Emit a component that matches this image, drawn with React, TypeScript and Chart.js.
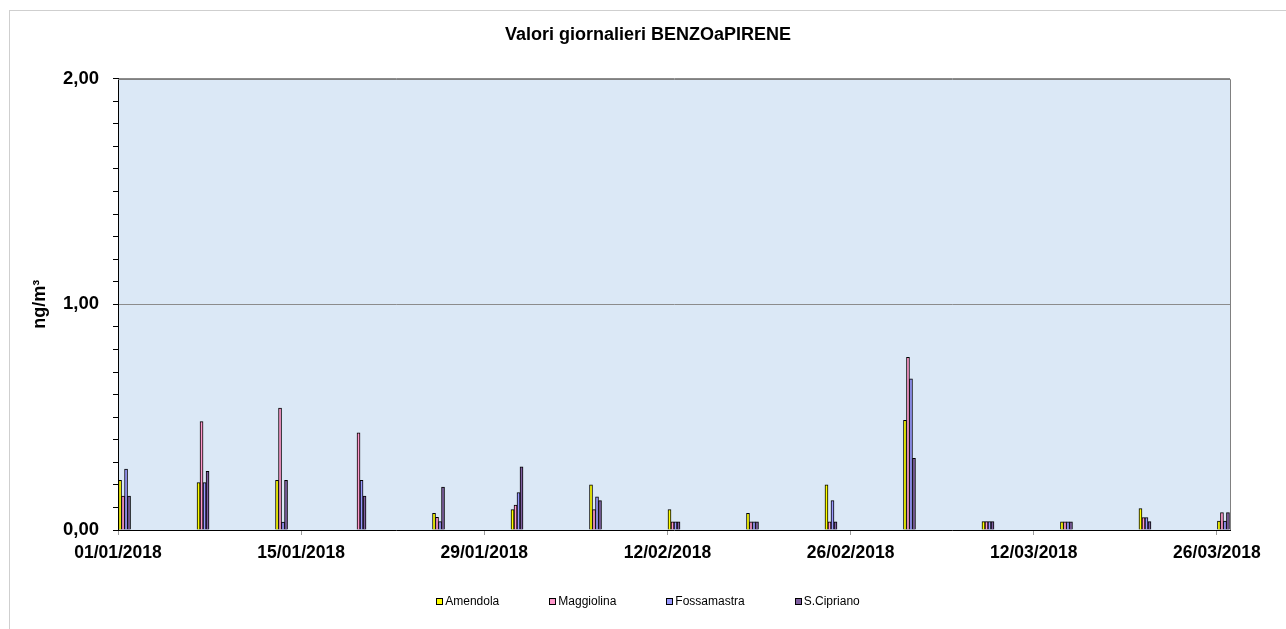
import React, { useEffect, useRef } from 'react';
import { Chart, registerables } from 'chart.js';

Chart.register(...registerables);

const CHART_TITLE = 'Valori giornalieri BENZOaPIRENE';
const Y_TITLE = 'ng/m³';
const START_DATE = '01/01/2018';
const AXIS_DAYS = 85;
const X_TICK_STEP = 14;
const Y_MAX = 2;
const Y_MINOR_STEP = 0.1;

const xTickLabels = ['01/01/2018', '15/01/2018', '29/01/2018', '12/02/2018', '26/02/2018', '12/03/2018', '26/03/2018'];

const sampleDates = [
  '01/01/2018', '07/01/2018', '13/01/2018', '19/01/2018', '25/01/2018',
  '31/01/2018', '06/02/2018', '12/02/2018', '18/02/2018', '24/02/2018',
  '02/03/2018', '08/03/2018', '14/03/2018', '20/03/2018', '26/03/2018',
];

const seriesNames = ['Amendola', 'Maggiolina', 'Fossamastra', 'S.Cipriano'];

const amendola = [0.22, 0.21, 0.22, null, 0.074, 0.09, 0.2, 0.09, 0.074, 0.2, 0.486, 0.037, 0.036, 0.095, 0.04];
const maggiolina = [0.15, 0.48, 0.54, 0.43, 0.056, 0.11, 0.09, 0.036, 0.036, 0.036, 0.765, 0.037, 0.036, 0.055, 0.077];
const fossamastra = [0.27, 0.21, 0.035, 0.22, 0.037, 0.166, 0.147, 0.036, 0.036, 0.13, 0.67, 0.037, 0.036, 0.055, 0.04];
const sCipriano = [0.15, 0.26, 0.22, 0.15, 0.19, 0.28, 0.13, 0.036, 0.036, 0.036, 0.318, 0.037, 0.036, 0.037, 0.077];

const seriesValues = [amendola, maggiolina, fossamastra, sCipriano];
const seriesColors = ['#FFFF00', '#FF99CC', '#9999FF', '#7F5FA0'];

const FONT = "'Liberation Sans', Arial, sans-serif";

function dayIndex(s: string): number {
  const [d, m, y] = s.split('/').map(Number);
  const [d0, m0, y0] = START_DATE.split('/').map(Number);
  return Math.round((Date.UTC(y, m - 1, d) - Date.UTC(y0, m0 - 1, d0)) / 86400000);
}

const plotFrame = {
  id: 'plotFrame',
  beforeDraw(chart: any) {
    const { ctx, chartArea: a } = chart;
    ctx.save();
    ctx.fillStyle = '#dbe8f6';
    ctx.fillRect(a.left, a.top, a.right - a.left, a.bottom - a.top);
    ctx.restore();
  },
  afterDraw(chart: any) {
    const { ctx, chartArea: a } = chart;
    ctx.save();
    ctx.strokeStyle = '#808080';
    ctx.lineWidth = 1;
    ctx.beginPath();
    ctx.moveTo(Math.round(a.left), Math.round(a.top) + 0.5);
    ctx.lineTo(Math.round(a.right) + 0.5, Math.round(a.top) + 0.5);
    ctx.lineTo(Math.round(a.right) + 0.5, Math.round(a.bottom));
    ctx.stroke();
    ctx.restore();
  },
};

export default function App() {
  const canvasRef = useRef<HTMLCanvasElement | null>(null);

  useEffect(() => {
    if (!canvasRef.current) return;
    const datasets = seriesNames.map((name, si) => ({
      label: name,
      data: sampleDates.map((d, i) => ({ x: dayIndex(d) + 0.5, y: seriesValues[si][i] })),
      backgroundColor: seriesColors[si],
      borderColor: '#000000',
      borderWidth: 1,
      borderSkipped: 'bottom',
      barThickness: 3,
    }));

    const chart = new Chart(canvasRef.current, {
      type: 'bar',
      data: { datasets: datasets as any },
      options: {
        animation: false,
        responsive: false,
        layout: { padding: { top: 0, left: 0, right: 0, bottom: 59 } },
        plugins: {
          legend: { display: false },
          tooltip: { enabled: false },
          title: {
            display: true,
            text: CHART_TITLE,
            color: '#000',
            font: { family: FONT, size: 18, weight: 'bold' },
            padding: { top: 13, bottom: 33 },
          },
        },
        scales: {
          x: {
            type: 'linear',
            min: 0,
            max: AXIS_DAYS,
            offset: false,
            afterFit: (s: any) => { s.height = 40; },
            ticks: {
              stepSize: X_TICK_STEP,
              includeBounds: false,
              autoSkip: false,
              maxRotation: 0,
              padding: 8,
              color: '#000',
              font: { family: FONT, size: 17.5, weight: 'bold' },
              callback: (v: any) => xTickLabels[Math.round(Number(v) / X_TICK_STEP)] ?? '',
            },
            grid: { offset: false, drawOnChartArea: false, drawTicks: true, tickLength: 5, tickColor: '#9a9a9a' },
            border: { color: '#000', width: 1 },
          },
          y: {
            type: 'linear',
            min: 0,
            max: Y_MAX,
            afterFit: (s: any) => { s.width = 108; },
            title: {
              display: true,
              text: Y_TITLE,
              color: '#000',
              font: { family: FONT, size: 18, weight: 'bold' },
              padding: { top: 19, bottom: 0 },
            },
            ticks: {
              stepSize: Y_MINOR_STEP,
              autoSkip: false,
              padding: 14,
              color: '#000',
              font: { family: FONT, size: 18.5, weight: 'bold' },
              callback: (v: any) => {
                const n = Number(v);
                return Math.abs(n - Math.round(n)) < 1e-6 ? n.toFixed(2).replace('.', ',') : '';
              },
            },
            grid: {
              drawTicks: true,
              tickLength: 5,
              tickColor: '#000',
              color: (c: any) => (c.tick && (Math.abs(c.tick.value - 1) < 1e-6 || Math.abs(c.tick.value - Y_MAX) < 1e-6) ? '#8c8c8c' : 'transparent'),
            },
            border: { color: '#000', width: 1 },
          },
          yR: {
            type: 'linear',
            position: 'right',
            display: true,
            afterFit: (s: any) => { s.width = 56; },
            ticks: { display: false },
            grid: { display: false },
            border: { display: false },
          },
        },
      },
      plugins: [plotFrame],
    });
    return () => chart.destroy();
  }, []);

  return (
    <div
      style={{
        position: 'fixed',
        left: 9,
        top: 10,
        width: 1277,
        height: 619,
        borderLeft: '1px solid #cfcfcf',
        borderTop: '1px solid #cfcfcf',
        background: '#fff',
        boxSizing: 'border-box',
      }}
    >
      <canvas ref={canvasRef} width={1276} height={618} style={{ display: 'block' }} />
      <div
        style={{
          position: 'absolute',
          left: 0,
          right: 0,
          top: 583,
          height: 14,
          display: 'flex',
          justifyContent: 'center',
          gap: 50,
          fontFamily: FONT,
          fontSize: 12,
          lineHeight: '14px',
          color: '#000',
        }}
      >
        {seriesNames.map((n, i) => (
          <div key={n} style={{ display: 'flex', alignItems: 'center' }}>
            <span
              style={{
                display: 'inline-block',
                width: 5,
                height: 5,
                border: '1px solid #000',
                background: seriesColors[i],
                marginRight: 2,
              }}
            />
            <span>{n}</span>
          </div>
        ))}
      </div>
    </div>
  );
}
